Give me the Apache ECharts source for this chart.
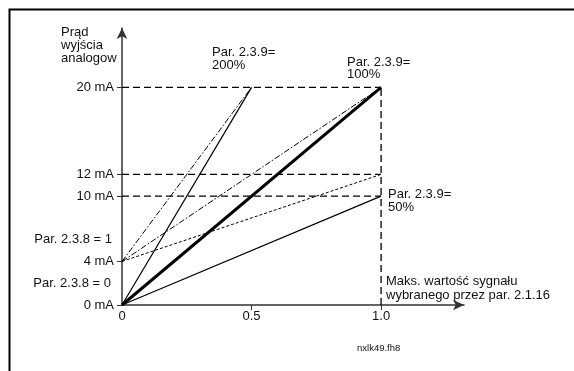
<!DOCTYPE html>
<html>
<head>
<meta charset="utf-8">
<script src="https://cdn.jsdelivr.net/npm/echarts@6/dist/echarts.min.js"></script>
<style>html,body{margin:0;padding:0;background:#fff;}#c{width:574px;height:371px;}</style>
</head>
<body>
<div id="c"></div>
<script>
// ---- data ----
const xTickValues = [0, 0.5, 1.0];
const xTickLabels = ['0', '0.5', '1.0'];
const yTickValues = [0, 4, 10, 12, 20];
const yTickLabels = ['0 mA', '4 mA', '10 mA', '12 mA', '20 mA'];

const gain200From0 = [[0, 0], [0.5, 20]];
const gain100From0 = [[0, 0], [1.0, 20]];
const gain50From0  = [[0, 0], [1.0, 10]];
const gain200From4 = [[0, 4], [0.5, 20]];
const gain100From4 = [[0, 4], [1.0, 20]];
const gain50From4  = [[0, 4], [1.0, 12]];

const ref20 = [[0, 20], [1.0, 20]];
const ref12 = [[0, 12], [1.0, 12]];
const ref10 = [[0, 10], [1.0, 10]];
const refMax = [[1.0, 0], [1.0, 20]];

const yTitle = 'Prąd\nwyjścia\nanalogow';
const label200 = 'Par. 2.3.9=\n200%';
const label100 = 'Par. 2.3.9=\n100%';
const label50 = 'Par. 2.3.9=\n50%';
const labelOffset1 = 'Par. 2.3.8 = 1';
const labelOffset0 = 'Par. 2.3.8 = 0';
const labelMax = 'Maks. wartość sygnału\nwybranego przez par. 2.1.16';
const labelFile = 'nxlk49.fh8';

// ---- chart ----
const FONT = '"Liberation Sans", Arial, sans-serif';
const chart = echarts.init(document.getElementById('c'), null, {renderer: 'canvas'});

function lineSeries(data, width, type) {
  return {
    type: 'line', data: data, showSymbol: false, symbol: 'none', silent: true,
    animation: false, clip: false,
    lineStyle: {color: '#000', width: width, type: type}
  };
}
const dash = [7, 4];

const option = {
  animation: false,
  backgroundColor: '#fff',
  grid: {left: 122, right: 110, top: 28, bottom: 66, containLabel: false},
  xAxis: {
    type: 'value', min: 0, max: 1.32,
    splitLine: {show: false},
    axisLine: {show: true, onZero: false, symbol: ['none', 'arrow'], symbolSize: [8, 11],
      lineStyle: {color: '#333', width: 1.5}},
    axisTick: {show: true, customValues: [0.5, 1.0], length: 5, lineStyle: {color: '#333', width: 1}},
    axisLabel: {customValues: xTickValues, margin: 5, color: '#111', fontFamily: FONT, fontSize: 13,
      formatter: function (v) { const i = xTickValues.indexOf(v); return i >= 0 ? xTickLabels[i] : ''; }}
  },
  yAxis: {
    type: 'value', min: 0, max: 25.45,
    splitLine: {show: false},
    axisLine: {show: true, onZero: false, symbol: ['none', 'arrow'], symbolSize: [8, 11],
      lineStyle: {color: '#333', width: 1.5}},
    axisTick: {show: true, customValues: yTickValues, length: 5, lineStyle: {color: '#333', width: 1}},
    axisLabel: {customValues: yTickValues, margin: 8, color: '#111', fontFamily: FONT, fontSize: 13,
      formatter: function (v) { const i = yTickValues.indexOf(v); return i >= 0 ? yTickLabels[i] : ''; }}
  },
  series: [
    lineSeries(ref20, 1.3, dash),
    lineSeries(ref12, 1.3, dash),
    lineSeries(ref10, 1.3, dash),
    lineSeries(refMax, 1.3, dash),
    lineSeries(gain200From4, 1, [6, 2, 1.5, 2]),
    lineSeries(gain100From4, 1, [6, 2, 1.5, 2]),
    lineSeries(gain50From4, 1, [3, 2]),
    lineSeries(gain200From0, 1.2, 'solid'),
    lineSeries(gain50From0, 1.2, 'solid'),
    lineSeries(gain100From0, 3, 'solid')
  ],
  graphic: [
    {type: 'rect', silent: true, shape: {x: 9.5, y: 9.5, width: 620, height: 420},
      style: {fill: 'none', stroke: '#000', lineWidth: 2}},
    {type: 'text', silent: true, style: {text: yTitle, x: 61, y: 25.5, fill: '#111', font: '13px ' + FONT, lineHeight: 13, textVerticalAlign: 'top'}},
    {type: 'text', silent: true, style: {text: label200, x: 212, y: 46.5, fill: '#111', font: '13px ' + FONT, lineHeight: 12.5, textVerticalAlign: 'top'}},
    {type: 'text', silent: true, style: {text: label100, x: 347, y: 56, fill: '#111', font: '13px ' + FONT, lineHeight: 12.5, textVerticalAlign: 'top'}},
    {type: 'text', silent: true, style: {text: label50, x: 388, y: 188.5, fill: '#111', font: '13px ' + FONT, lineHeight: 12.5, textVerticalAlign: 'top'}},
    {type: 'text', silent: true, style: {text: labelOffset1, x: 112, y: 239, fill: '#111', font: '13px ' + FONT, textAlign: 'right', textVerticalAlign: 'middle'}},
    {type: 'text', silent: true, style: {text: labelOffset0, x: 111, y: 283, fill: '#111', font: '13px ' + FONT, textAlign: 'right', textVerticalAlign: 'middle'}},
    {type: 'text', silent: true, style: {text: labelMax, x: 386, y: 275, fill: '#111', font: '13px ' + FONT, lineHeight: 13.5, textVerticalAlign: 'top'}},
    {type: 'text', silent: true, style: {text: labelFile, x: 357, y: 348, fill: '#111', font: '9.5px ' + FONT, textVerticalAlign: 'middle'}}
  ]
};
chart.setOption(option);
</script>
</body>
</html>
